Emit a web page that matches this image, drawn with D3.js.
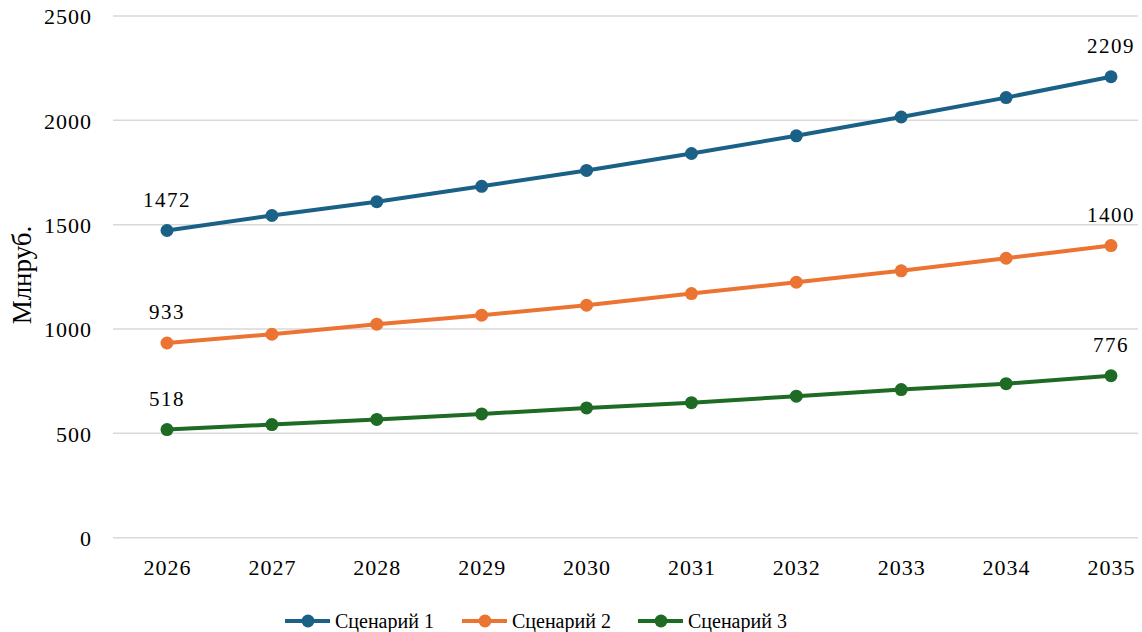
<!DOCTYPE html>
<html><head><meta charset="utf-8">
<script src="https://cdn.jsdelivr.net/npm/d3@7"></script>
<style>
html,body{margin:0;padding:0;background:#fff;}
text{font-family:"Liberation Serif","Times New Roman",serif;fill:#000;}
</style></head>
<body><svg id="c" width="1142" height="632"></svg>
<script>
const years = ["2026","2027","2028","2029","2030","2031","2032","2033","2034","2035"];
const scenario1 = [1472, 1544, 1610, 1684, 1760, 1841, 1926, 2016, 2109, 2209];
const scenario2 = [933, 975, 1023, 1066, 1114, 1170, 1224, 1279, 1339, 1400];
const scenario3 = [518, 542, 567, 593, 622, 647, 678, 710, 738, 776];
const seriesNames = ["Сценарий 1", "Сценарий 2", "Сценарий 3"];
const yTicks = [0, 500, 1000, 1500, 2000, 2500];
const yTitle = "Млнруб.";

const colors = ["#1b6187", "#eb7433", "#1e6b25"];
const series = [scenario1, scenario2, scenario3];

const svg = d3.select("#c");
const gridL = 113, gridR = 1138;
const x = d3.scalePoint().domain(years).range([167, 1111]);
const y = d3.scaleLinear().domain([0, 2500]).range([537.7, 16]);

// gridlines
svg.append("g").selectAll("line").data(yTicks).join("line")
  .attr("x1", gridL).attr("x2", gridR)
  .attr("y1", d => y(d)).attr("y2", d => y(d))
  .attr("stroke", "#d9d9d9").attr("stroke-width", 1.5);

// y axis labels
const yAxis = d3.axisLeft(y).tickValues(yTicks).tickFormat(d3.format("d")).tickSize(0).tickPadding(0);
const gy = svg.append("g").attr("transform", "translate(92,0)").call(yAxis);
gy.select(".domain").remove();
gy.selectAll("text").attr("font-family", "Liberation Serif").attr("font-size", 22)
  .attr("letter-spacing", 1).attr("fill", "#000").attr("dy", "0.35em");

// x axis labels
const xAxis = d3.axisBottom(x).tickSize(0).tickPadding(0);
const gx = svg.append("g").attr("transform", "translate(0,567)").call(xAxis);
gx.select(".domain").remove();
gx.selectAll("text").attr("font-family", "Liberation Serif").attr("font-size", 22)
  .attr("letter-spacing", 1).attr("fill", "#000").attr("dy", "0.35em");

// y title
svg.append("text").attr("transform", "translate(31,275) rotate(-90)")
  .attr("text-anchor", "middle").attr("font-size", 27)
  .text(yTitle);

// lines + markers
const line = d3.line().x((d, i) => x(years[i])).y(d => y(d));
series.forEach((s, k) => {
  svg.append("path").datum(s).attr("d", line)
    .attr("fill", "none").attr("stroke", colors[k]).attr("stroke-width", 4)
    .attr("stroke-linejoin", "round");
  svg.append("g").selectAll("circle").data(s).join("circle")
    .attr("cx", (d, i) => x(years[i])).attr("cy", d => y(d)).attr("r", 6.5)
    .attr("fill", colors[k]);
  [0, s.length - 1].forEach(i => {
    svg.append("text").attr("x", x(years[i])).attr("y", y(s[i]) - 24)
      .attr("text-anchor", "middle").attr("font-size", 21).attr("letter-spacing", 1.5)
      .text(s[i]);
  });
});

// legend
const legX = [285, 462, 638];
const legY = 621;
seriesNames.forEach((n, k) => {
  const g = svg.append("g");
  g.append("line").attr("x1", legX[k]).attr("x2", legX[k] + 45)
    .attr("y1", legY).attr("y2", legY).attr("stroke", colors[k]).attr("stroke-width", 4);
  g.append("circle").attr("cx", legX[k] + 23).attr("cy", legY).attr("r", 6.5).attr("fill", colors[k]);
  g.append("text").attr("x", legX[k] + 50).attr("y", legY).attr("dy", "0.35em")
    .attr("font-size", 20)
    .text(n);
});
</script></body></html>
